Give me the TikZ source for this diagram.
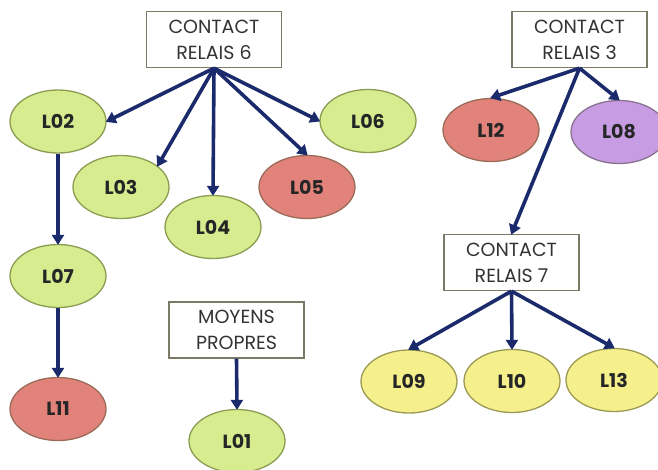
\documentclass[tikz,border=0pt]{standalone}
\usepackage{fontspec}
\setmainfont{Poppins}
\usepackage{tikz}
\usetikzlibrary{shapes,arrows.meta}
\definecolor{navy}{HTML}{1B2A6B}
\definecolor{leaf}{HTML}{D6EC8E}
\definecolor{leafdk}{HTML}{8C9C52}
\definecolor{rose}{HTML}{E2837B}
\definecolor{rosedk}{HTML}{9A6B58}
\definecolor{lilac}{HTML}{C79CE2}
\definecolor{lilacdk}{HTML}{8A7290}
\definecolor{lemon}{HTML}{F5EF8C}
\definecolor{lemondk}{HTML}{9A9A55}
\definecolor{boxdk}{HTML}{7A7A66}
\tikzset{
  relais/.style={draw=boxdk,line width=1.3pt,fill=white,minimum width=135pt,minimum height=56pt,
    align=center,inner sep=0pt,font=\fontsize{19}{26}\selectfont,text=black!80},
  ligne/.style={ellipse,line width=1.3pt,minimum width=96pt,minimum height=63pt,inner sep=0pt,
    font=\fontsize{19}{20}\selectfont\bfseries,text=black!85},
  vert/.style={ligne,fill=leaf,draw=leafdk},
  rouge/.style={ligne,fill=rose,draw=rosedk},
  violet/.style={ligne,fill=lilac,draw=lilacdk},
  jaune/.style={ligne,fill=lemon,draw=lemondk},
  fl/.style={navy,line width=3.6pt,-{Triangle[length=10pt,width=12pt]},shorten >=-1pt}
}
\begin{document}
\begin{tikzpicture}[x=1pt,y=-1pt]
\useasboundingbox (0,0) rectangle (658,469);
% boxes
\node[relais] (r6) at (214,39.5) {CONTACT\\RELAIS 6};
\node[relais] (r3) at (579.5,39.5) {CONTACT\\RELAIS 3};
\node[relais] (r7) at (511.5,262.5) {CONTACT\\RELAIS 7};
\node[relais] (mp) at (236.5,330) {MOYENS\\PROPRES};
% lines
\node[vert] (l02) at (58,121.5) {L02};
\node[vert] (l03) at (121,187) {L03};
\node[vert] (l04) at (213,227) {L04};
\node[rouge] (l05) at (307,187) {L05};
\node[vert] (l06) at (368,121) {L06};
\node[rouge] (l12) at (491,130) {L12};
\node[violet] (l08) at (619,132) {L08};
\node[vert] (l07) at (58,276) {L07};
\node[rouge] (l11) at (58,409) {L11};
\node[vert] (l01) at (237,441) {L01};
\node[jaune] (l09) at (409,381.5) {L09};
\node[jaune] (l10) at (512,381) {L10};
\node[jaune] (l13) at (614,380) {L13};
% arrows
\draw[fl] (r6.south) -- (l02.east);
\draw[fl] (r6.south) -- (l03.30);
\draw[fl] (r6.south) -- (l04.north);
\draw[fl] (r6.south) -- (l05.north);
\draw[fl] (r6.south) -- (l06.west);
\draw[fl] (r3.south) -- (l12.north);
\draw[fl] (r3.south) -- (l08.north);
\draw[fl] (r3.south) -- (r7.north);
\draw[fl] (r7.south) -- (l09.north);
\draw[fl] (r7.south) -- (l10.north);
\draw[fl] (r7.south) -- (l13.north);
\draw[fl] (l02.south) -- (l07.north);
\draw[fl] (l07.south) -- (l11.north);
\draw[fl] (mp.south) -- (l01.north);
\end{tikzpicture}
\end{document}
